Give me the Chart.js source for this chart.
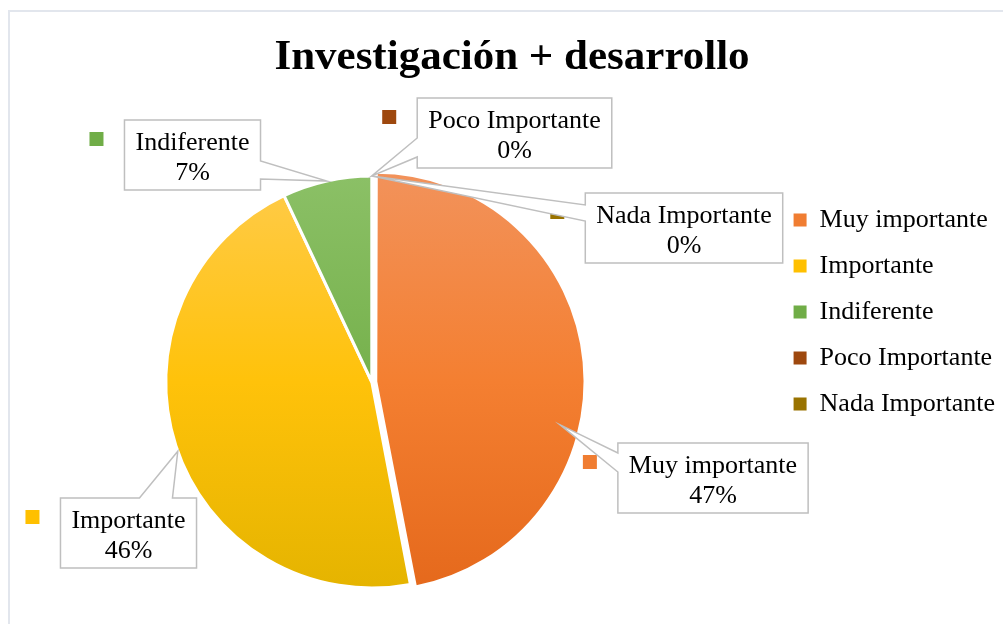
<!DOCTYPE html>
<html><head><meta charset="utf-8">
<script src="https://cdn.jsdelivr.net/npm/chart.js@4.4.1/dist/chart.umd.min.js"></script>
<style>html,body{margin:0;padding:0;background:#fff;}</style>
</head><body>
<canvas id="c" width="1003" height="624"></canvas>
<script>
// ---- data ----
const titleText = 'Investigación + desarrollo';
const categories = ['Muy importante', 'Importante', 'Indiferente', 'Poco Importante', 'Nada Importante'];
const values = [47, 46, 7, 0, 0];

// ---- styles ----
const gradTop = ['#F2925A', '#FFCB4A', '#8BC066', '#B0592A', '#A8841F'];
const gradMid = ['#F47F31', '#FFC20A', '#76B14C', '#A04A12', '#997300'];
const gradBot = ['#E5691C', '#E5B400', '#67A33E', '#8E3F0B', '#876500'];
const keyColors = ['#F07D32', '#FFC000', '#70AD47', '#9E480E', '#997300'];
const sliceOffsets = [16, 0, 0, 0, 0];
const pieRadius = 206;
const serif = '"Liberation Serif", "Times New Roman", serif';
const labelFontSize = 26;
const lineColor = '#BFBFBF';

// callout layout (box centre, pointer side, pointer base offsets along that side, anchor in slice)
const callouts = [
  {cx: 713, cy: 478, side: 'left', b1: 10, b2: 29, t: 0.61, rf: 0.92},
  {cx: 128.5, cy: 533, side: 'top', b1: 79, b2: 112, t: 0.49, rf: 1},
  {cx: 192.5, cy: 155, side: 'right', b1: 41, b2: 59, t: 0.5, rf: 1},
  {cx: 514.5, cy: 133, side: 'left', b1: 40, b2: 59, t: 0.5, rf: 1},
  {cx: 684, cy: 228, side: 'left', b1: 12, b2: 28, t: 0.5, rf: 1}
];

const total = values.reduce((a, b) => a + b, 0);
const percentLabels = values.map(v => Math.round(v / total * 100) + '%');

const borderPlugin = {
  id: 'frame',
  beforeDraw(chart) {
    const ctx = chart.ctx;
    ctx.save();
    ctx.strokeStyle = '#E2E6ED';
    ctx.lineWidth = 2;
    ctx.beginPath();
    ctx.moveTo(9, 624); ctx.lineTo(9, 11); ctx.lineTo(1003, 11);
    ctx.stroke();
    ctx.restore();
  }
};

// fine placement of title and plot area
const layoutTweak = {
  id: 'layoutTweak',
  afterLayout(chart) {
    const t = chart.titleBlock;
    if (t) { t.left += 38.5; t.right += 38.5; }
    const a = chart.chartArea;
    a.left -= 30; a.width += 30;
  }
};

const calloutPlugin = {
  id: 'callouts',
  afterDatasetsDraw(chart) {
    const ctx = chart.ctx;
    const meta = chart.getDatasetMeta(0);
    ctx.save();
    ctx.font = labelFontSize + 'px ' + serif;
    meta.data.forEach((arc, i) => {
      const c = callouts[i];
      const p = arc.getProps(['x', 'y', 'startAngle', 'endAngle', 'outerRadius'], true);
      const half = (p.startAngle + p.endAngle) / 2;
      const off = sliceOffsets[i] / 4;
      const ox = p.x + Math.cos(half) * off, oy = p.y + Math.sin(half) * off;
      const ang = p.startAngle + (p.endAngle - p.startAngle) * c.t;
      const tipX = ox + Math.cos(ang) * p.outerRadius * c.rf;
      const tipY = oy + Math.sin(ang) * p.outerRadius * c.rf;
      const l1 = categories[i], l2 = percentLabels[i];
      const w = Math.max(ctx.measureText(l1).width, ctx.measureText(l2).width) + 22;
      const h = 70;
      const L = c.cx - w / 2, T = c.cy - h / 2, R = L + w, B = T + h;
      // legend key
      ctx.fillStyle = keyColors[i];
      ctx.fillRect(L - 35, T + 12, 14, 14);
      // shape
      let pts;
      if (c.side === 'top') pts = [[L, T], [L + c.b1, T], [tipX, tipY], [L + c.b2, T], [R, T], [R, B], [L, B]];
      else if (c.side === 'right') pts = [[L, T], [R, T], [R, T + c.b1], [tipX, tipY], [R, T + c.b2], [R, B], [L, B]];
      else pts = [[L, T], [R, T], [R, B], [L, B], [L, T + c.b2], [tipX, tipY], [L, T + c.b1]];
      ctx.beginPath();
      pts.forEach((q, k) => k ? ctx.lineTo(q[0], q[1]) : ctx.moveTo(q[0], q[1]));
      ctx.closePath();
      ctx.fillStyle = '#FFFFFF';
      ctx.fill();
      ctx.strokeStyle = lineColor;
      ctx.lineWidth = 1.5;
      ctx.lineJoin = 'miter';
      ctx.stroke();
      ctx.fillStyle = '#000';
      ctx.textAlign = 'center';
      ctx.textBaseline = 'alphabetic';
      ctx.fillText(l1, c.cx, c.cy - 5);
      ctx.fillText(l2, c.cx, c.cy + 25);
    });
    ctx.restore();
  }
};

function sliceFill(ctx) {
  const i = ctx.dataIndex;
  const chart = ctx.chart;
  const a = chart.chartArea;
  if (!a) return keyColors[i];
  const cy = (a.top + a.bottom) / 2;
  const g = chart.ctx.createLinearGradient(0, cy - pieRadius, 0, cy + pieRadius);
  g.addColorStop(0, gradTop[i]);
  g.addColorStop(0.5, gradMid[i]);
  g.addColorStop(1, gradBot[i]);
  return g;
}

new Chart(document.getElementById('c'), {
  type: 'pie',
  data: {
    labels: categories,
    datasets: [{
      data: values,
      backgroundColor: sliceFill,
      borderColor: '#FFFFFF',
      borderWidth: 3,
      offset: sliceOffsets
    }]
  },
  options: {
    responsive: false,
    devicePixelRatio: 1,
    animation: false,
    radius: pieRadius,
    layout: {padding: {left: -58, right: -2, top: 0, bottom: 0}},
    plugins: {
      tooltip: {enabled: false},
      title: {
        display: true,
        text: titleText,
        color: '#000',
        font: {family: serif, size: 43, weight: 'bold'},
        padding: {top: 32, bottom: 56.4}
      },
      legend: {
        position: 'right',
        align: 'center',
        labels: {
          boxWidth: 13,
          boxHeight: 13,
          padding: 20,
          color: '#000',
          font: {family: serif, size: labelFontSize},
          generateLabels: () => categories.map((c, i) => ({
            text: c, fillStyle: keyColors[i], strokeStyle: keyColors[i], lineWidth: 0,
            hidden: false, index: i, fontColor: '#000'
          }))
        }
      }
    }
  },
  plugins: [borderPlugin, layoutTweak, calloutPlugin]
});
</script>
</body></html>
